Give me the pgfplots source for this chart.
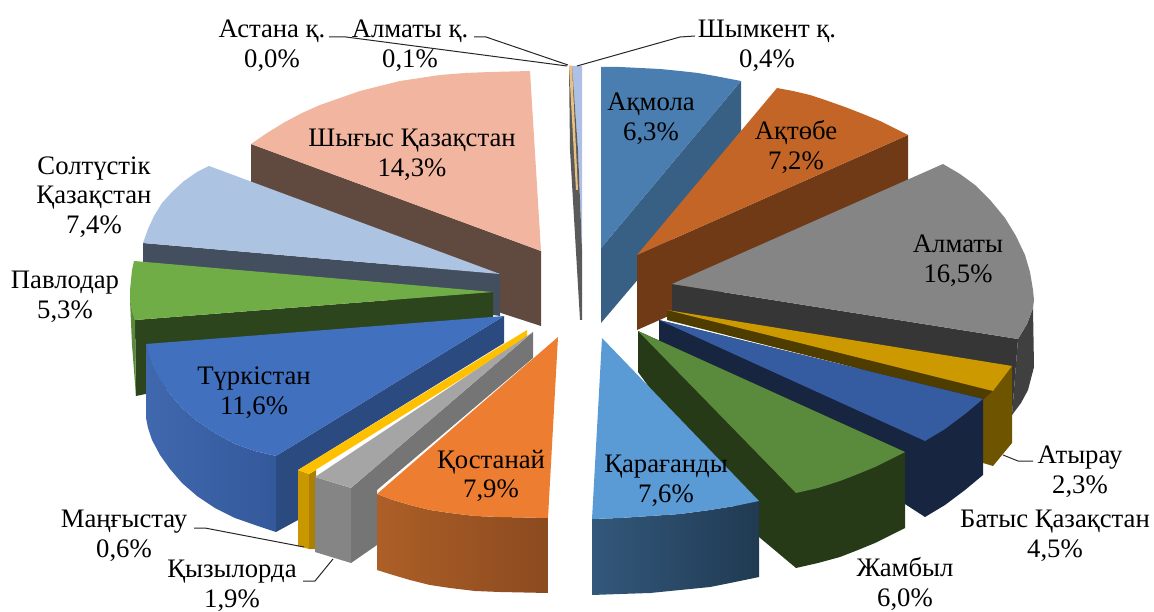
\documentclass[border=0pt]{standalone}
\usepackage{pgfplots}
\pgfplotsset{compat=1.18}
\usepackage{fontspec}
\setmainfont{Liberation Serif}
\definecolor{akT}{HTML}{4A7EB0}\definecolor{akS}{HTML}{386084}
\definecolor{atT}{HTML}{C26526}\definecolor{atS}{HTML}{703A17}
\definecolor{alT}{HTML}{858585}\definecolor{alS}{HTML}{363636}\definecolor{alR}{HTML}{404040}
\definecolor{tyT}{HTML}{CC9900}\definecolor{tyS}{HTML}{4F3D00}\definecolor{tyR}{HTML}{6F5400}
\definecolor{baT}{HTML}{355CA0}\definecolor{baS}{HTML}{172541}
\definecolor{jaT}{HTML}{5A8A3C}\definecolor{jaS}{HTML}{263A17}
\definecolor{kaT}{HTML}{5B9BD5}\definecolor{kaA}{HTML}{33587B}\definecolor{kaB}{HTML}{203A52}
\definecolor{koT}{HTML}{ED7D31}\definecolor{koA}{HTML}{AD5F27}\definecolor{koB}{HTML}{8B4A1F}
\definecolor{kyT}{HTML}{A5A5A5}\definecolor{kyS}{HTML}{757575}\definecolor{kyF}{HTML}{858585}
\definecolor{maT}{HTML}{FFC000}\definecolor{maF}{HTML}{C99700}
\definecolor{tuT}{HTML}{4070BE}\definecolor{tuS}{HTML}{2A4A80}\definecolor{tuA}{HTML}{4068AE}\definecolor{tuB}{HTML}{34599B}
\definecolor{paT}{HTML}{70AD47}\definecolor{paS}{HTML}{2C451C}
\definecolor{soT}{HTML}{ACC3E2}\definecolor{soS}{HTML}{434F5E}
\definecolor{shT}{HTML}{F2B6A0}\definecolor{shS}{HTML}{604A40}
\definecolor{shyT}{HTML}{AFC0E6}
\definecolor{sliv}{HTML}{5A5A5A}\definecolor{slivy}{HTML}{E8C080}
\tikzset{lab/.style={font=\fontsize{26.7}{29.7}\selectfont, align=center, anchor=center, text=black, inner sep=0pt}}
\begin{document}
\begin{tikzpicture}
\path[use as bounding box] (0,0) rectangle (1154pt,612pt);
\begin{axis}[
  anchor=south west, at={(0,0)}, scale only axis, width=1154pt, height=612pt,
  xmin=0, xmax=1154, ymin=0, ymax=612, y dir=reverse, hide axis, clip=false,
  every axis plot/.append style={draw=none, no markers, line join=round},
]
% --- slivers
\addplot[fill=shyT] coordinates {(572,66)(582,66)(582,250)(578,150)} -- cycle;
\addplot[fill=sliv] coordinates {(569,66)(572,66)(578,150)(582,250)(582,320)(580,320)(570,150)} -- cycle;
\addplot[fill=slivy] coordinates {(569,66)(572,66)(578,190)(576,190)} -- cycle;
% --- Akmola
\addplot[fill=akS] coordinates {(741,81)(601,248)(601,323)(741,158)} -- cycle;
\addplot[fill=akT] coordinates {(601,67)(620,67)(640,68)(660,69)(680,71)(698,73)(715,76)(741,81)(601,248)} -- cycle;
% --- Aktobe
\addplot[fill=atS] coordinates {(908,135)(637,255)(637,330)(908,210)} -- cycle;
\addplot[fill=atT] coordinates {(777,88)(793,91)(810,95)(828,101)(845,107)(863,114)(880,121)(908,135)(637,255)} -- cycle;
% --- Shygys
\addplot[fill=shS] coordinates {(251,144)(541,251)(541,326)(501,313)(251,182)} -- cycle;
\addplot[fill=shT] coordinates {(530,71)(490,72)(465,73)(440,75)(420,78)(400,81)(380,86)(360,91)(340,98)(320,105)(302,113)(285,122)(267,133)(251,144)(541,251)} -- cycle;
% --- Soltustik
\addplot[fill=soS] coordinates {(143,243)(500,274)(500,316)(143,265)} -- cycle;
\addplot[fill=soT] coordinates {(209,166)(197,172)(184,181)(172,192)(162,203)(154,216)(148,229)(143,243)(500,274)} -- cycle;
% --- Pavlodar
\addplot[fill=paS] coordinates {(135,320)(493,292)(493,322)(136,396)} -- cycle;
\addplot[fill=paT!80!black] coordinates {(130,300)(135,320)(136,396)(132,345)} -- cycle;
\addplot[fill=paT] coordinates {(134,261)(132,270)(131,280)(130,290)(130,300)(132,312)(135,320)(493,292)} -- cycle;
% --- Almaty
\addplot[fill=alS] coordinates {(672,284)(672,312)(1012,415)(1018,339)} -- cycle;
\addplot[fill=alR] coordinates {(1018,339)(1027,324)(1033,308)(1034,367)(1028,390)(1021,403)(1012,415)} -- cycle;
\addplot[fill=alT] coordinates {(672,284)(943,164)(960,174)(975,185)(991,201)(1005,218)(1016,236)(1025,255)(1030,272)(1033,290)(1034,300)(1033,308)(1027,324)(1018,339)} -- cycle;
% --- Atyrau
\addplot[fill=tyS] coordinates {(667,310)(667,320)(983,400)(993,391)} -- cycle;
\addplot[fill=tyR] coordinates {(993,391)(1012,366)(1012,443)(993,466)(983,463)(983,400)} -- cycle;
\addplot[fill=tyT] coordinates {(667,310)(1012,366)(993,391)} -- cycle;
% --- Batys
\addplot[fill=baS] coordinates {(659,320)(659,345)(925,517)(945,505)(965,490)(983,475)(983,399)} -- cycle;
\addplot[fill=baT] coordinates {(659,320)(983,399)(965,414)(945,429)(925,441)} -- cycle;
% --- Jambyl
\addplot[fill=jaS] coordinates {(638,331)(638,372)(759,537)(796,568)(818,563)(840,557)(858,550)(875,543)(905,528)(905,452)} -- cycle;
\addplot[fill=jaT] coordinates {(638,331)(905,452)(875,467)(858,474)(840,481)(818,488)(796,493)} -- cycle;
% --- Karaganda
\addplot[left color=kaA, right color=kaB] coordinates {(592,519)(620,518)(650,516)(680,514)(710,510)(735,506)(759,501)(759,577)(735,582)(710,587)(680,590)(650,593)(620,594)(592,595)} -- cycle;
\addplot[fill=kaT] coordinates {(602,338)(759,501)(735,506)(710,510)(680,514)(650,516)(620,518)(592,519)} -- cycle;
% --- Turkistan
\addplot[fill=tuS] coordinates {(504,316)(504,343)(298,470)(298,520)(276,532)(276,456)} -- cycle;
\addplot[left color=tuA, right color=tuB] coordinates {(146,344)(148,353)(152,365)(160,380)(170,394)(182,408)(197,421)(215,433)(235,444)(255,451)(276,456)(276,532)(255,525)(235,518)(215,508)(197,496)(182,483)(170,469)(160,455)(152,440)(148,428)(146,418)} -- cycle;
\addplot[fill=tuT] coordinates {(504,316)(146,344)(148,353)(152,365)(160,380)(170,394)(182,408)(197,421)(215,433)(235,444)(255,451)(276,456)} -- cycle;
% --- Mangystau
\addplot[fill=maF!85!black] coordinates {(309,474)(316,470)(316,549)(309,549)} -- cycle;
\addplot[fill=maF] coordinates {(298,470)(309,474)(309,549)(298,546)} -- cycle;
\addplot[fill=maT] coordinates {(527,330)(527,338)(309,474)(298,470)} -- cycle;
% --- Kyzylorda
\addplot[fill=kyS] coordinates {(533,332)(533,358)(377,490)(377,545)(351,563)(351,488)} -- cycle;
\addplot[fill=kyF] coordinates {(315,477)(351,488)(351,563)(315,552)} -- cycle;
\addplot[fill=kyT] coordinates {(533,332)(351,488)(315,477)} -- cycle;
% --- Kostanai
\addplot[left color=koA, right color=koB] coordinates {(377,494)(393,500)(410,505)(430,510)(450,513)(475,516)(500,517)(548,518)(548,593)(500,592)(475,591)(450,588)(430,585)(410,580)(393,575)(377,570)} -- cycle;
\addplot[fill=koT] coordinates {(558,337)(548,518)(500,517)(475,516)(450,513)(430,510)(410,505)(393,500)(377,494)} -- cycle;
% --- leader lines
\addplot[draw=black!85, line width=1pt] coordinates {(577,66)(680,37)(695,36)};
\addplot[draw=black!85, line width=1pt] coordinates {(329,37)(346,37)(567,66)};
\addplot[draw=black!85, line width=1pt] coordinates {(474,37)(486,37)(568,65)};
\addplot[draw=black!85, line width=1pt] coordinates {(1003,455)(1018,461)(1033,461)};
\addplot[draw=black!85, line width=1pt] coordinates {(194,528)(205,528)(304,547)};
\addplot[draw=black!85, line width=1pt] coordinates {(303,581)(315,581)(333,559)};
% --- labels
\node[lab] at (axis cs:767,46) {Шымкент қ.\\0,4\%};
\node[lab] at (axis cs:272,46) {Астана қ.\\0,0\%};
\node[lab] at (axis cs:410,46) {Алматы қ.\\0,1\%};
\node[lab] at (axis cs:651,119) {Ақмола\\6,3\%};
\node[lab] at (axis cs:796,147) {Ақтөбе\\7,2\%};
\node[lab] at (axis cs:958,261) {Алматы\\16,5\%};
\node[lab] at (axis cs:1080,472) {Атырау\\2,3\%};
\node[lab] at (axis cs:1055,536) {Батыс Қазақстан\\4,5\%};
\node[lab] at (axis cs:905,584) {Жамбыл\\6,0\%};
\node[lab] at (axis cs:666,481) {Қарағанды\\7,6\%};
\node[lab] at (axis cs:491,476) {Қостанай\\7,9\%};
\node[lab] at (axis cs:232,586) {Қызылорда\\1,9\%};
\node[lab] at (axis cs:124,536) {Маңғыстау\\0,6\%};
\node[lab] at (axis cs:254,393) {Түркістан\\11,6\%};
\node[lab] at (axis cs:65,297) {Павлодар\\5,3\%};
\node[lab] at (axis cs:94,197) {Солтүстік\\Қазақстан\\7,4\%};
\node[lab] at (axis cs:412,155) {Шығыс Қазақстан\\14,3\%};
\end{axis}
\end{tikzpicture}
\end{document}
